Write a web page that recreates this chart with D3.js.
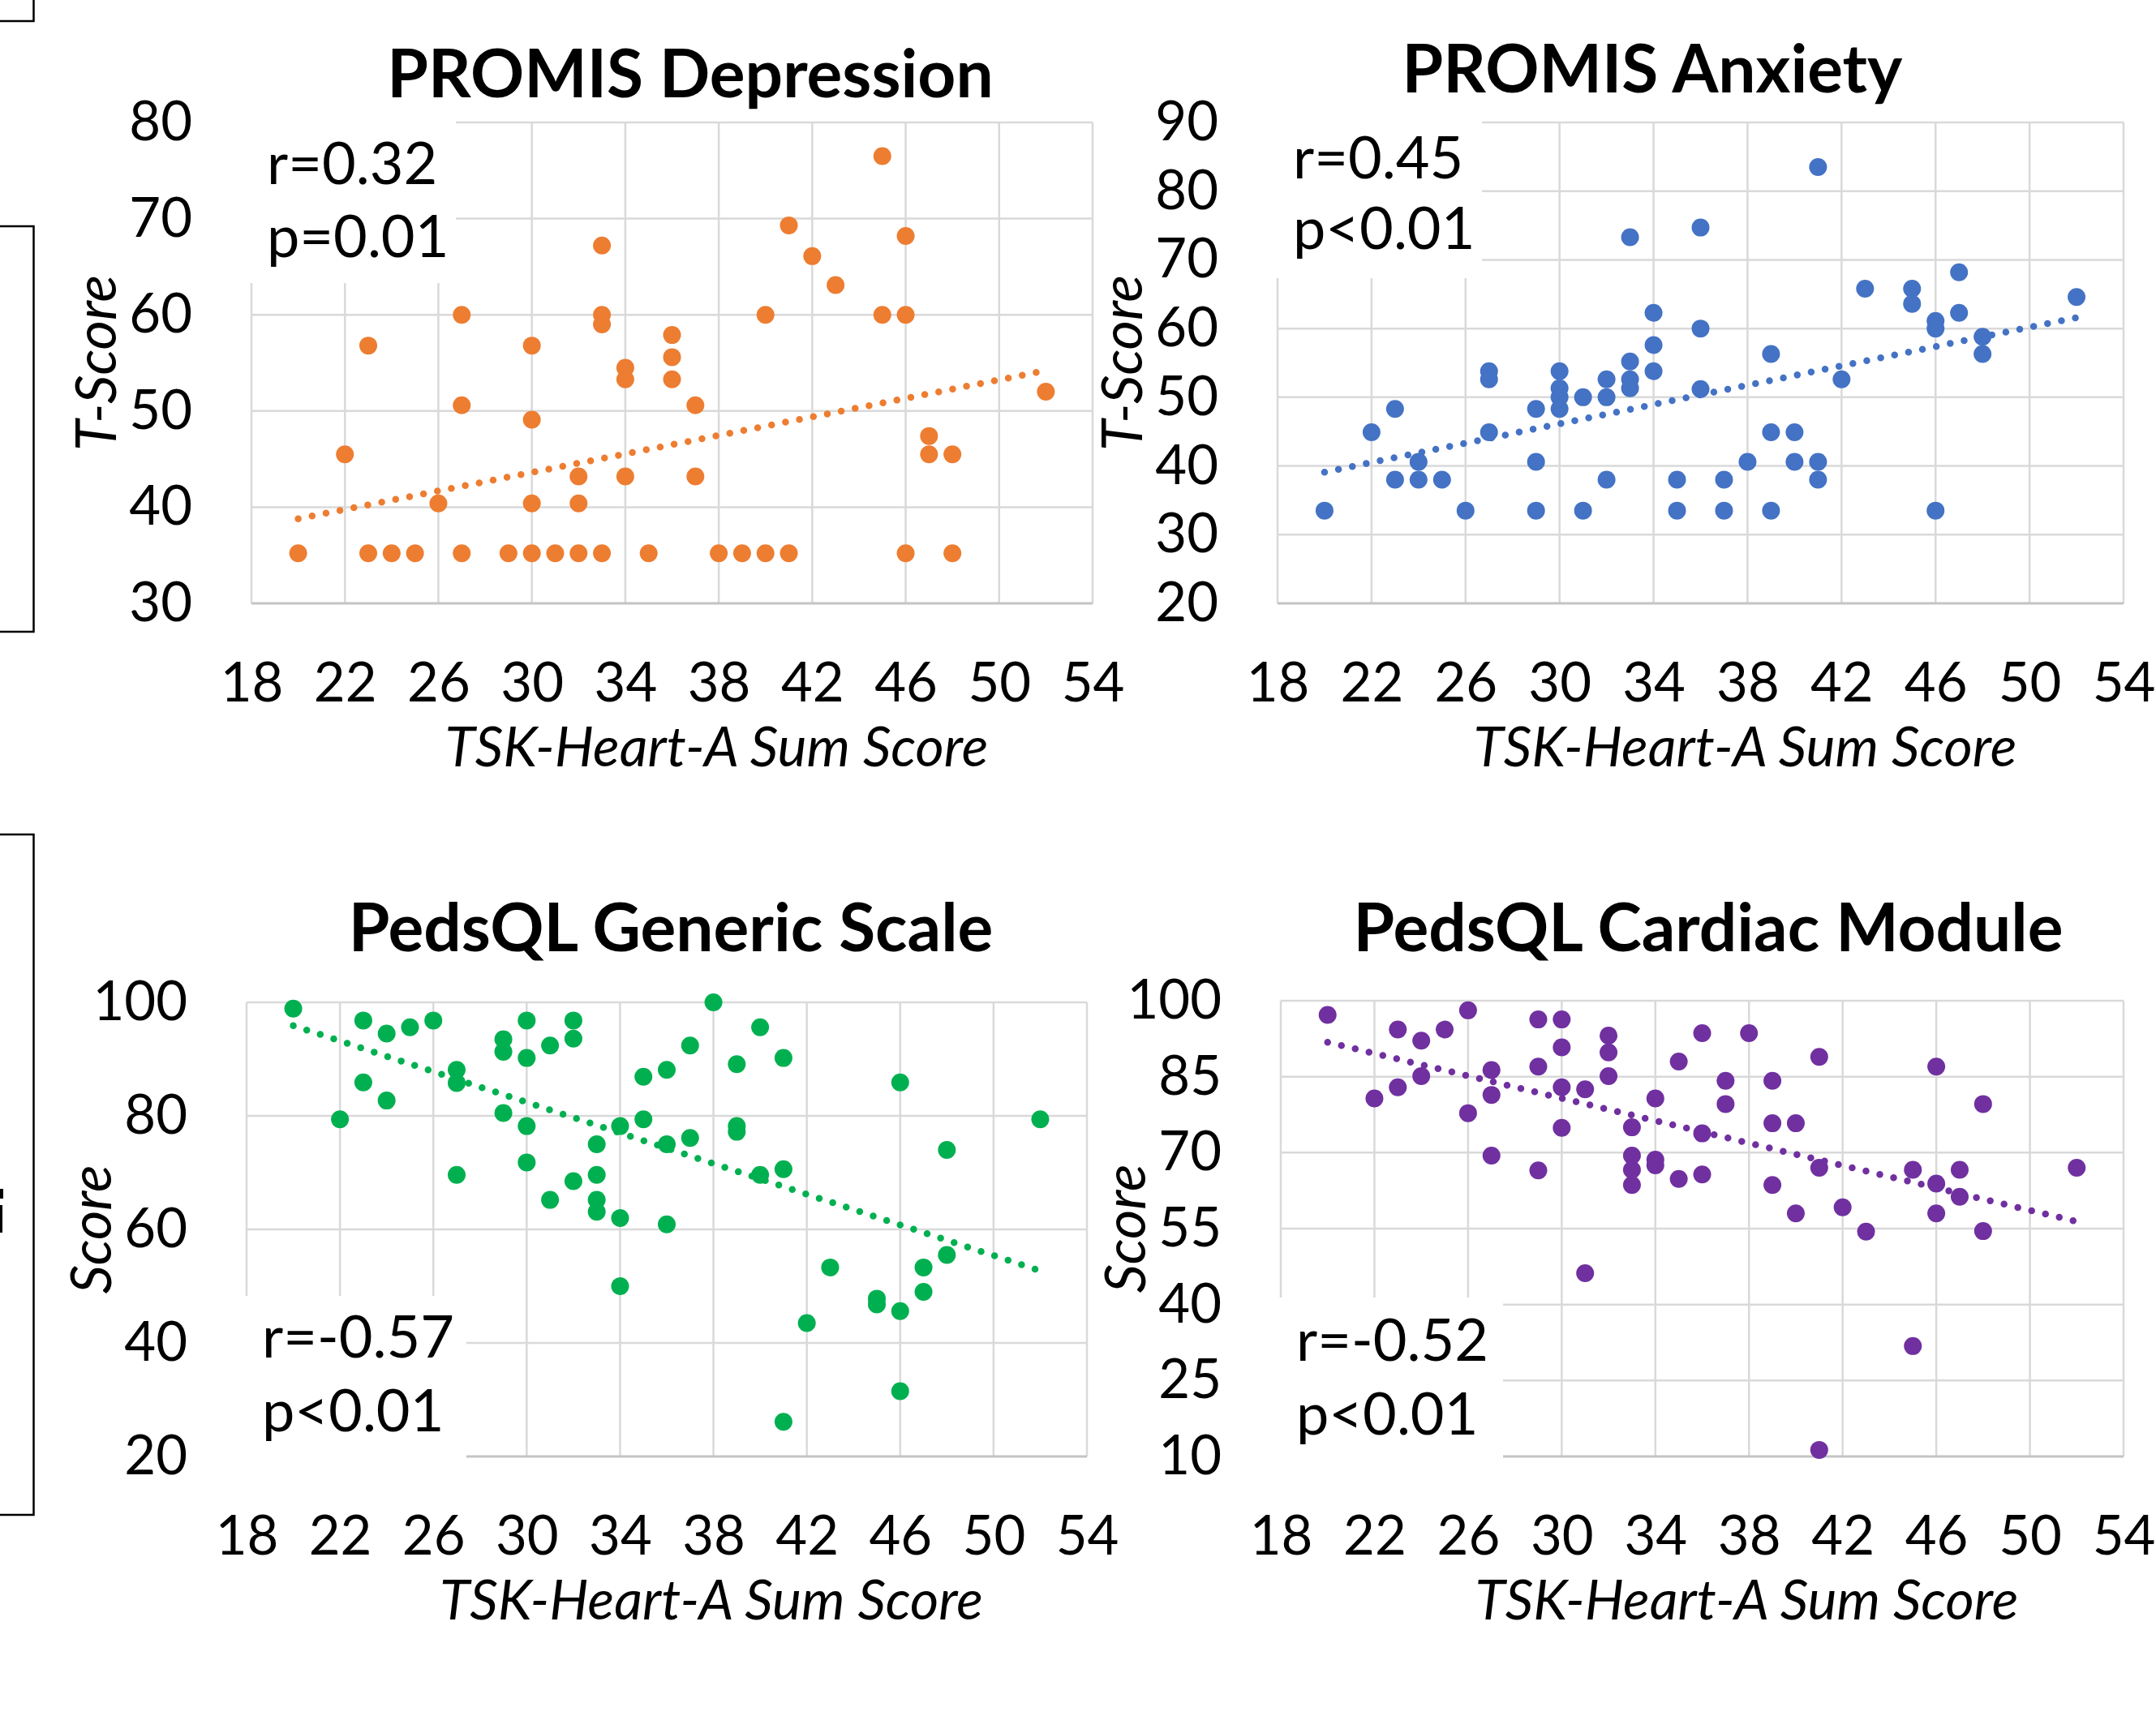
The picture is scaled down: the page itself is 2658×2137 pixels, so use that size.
<!DOCTYPE html>
<html>
<head>
<meta charset="utf-8">
<script src="https://cdn.jsdelivr.net/npm/d3@7"></script>
<style>
  body { margin: 0; background: #fff; }
  svg { display: block; }
  text { font-family: Lato, 'Open Sans', sans-serif; fill: #000; }
</style>
</head>
<body>
<svg width="2658" height="2137"></svg>
<script>
// TSK-Heart-A sum score (x) against each outcome (y)
let xTicks = [18, 22, 26, 30, 34, 38, 42, 46, 50, 54]

let depX = [20,22,23,23,24,25,26,27,27,27,29,30,30,30,30,31,32,32,32,33,33,33,33,34,34,34,35,36,36,36,37,37,38,39,40,40,41,41,42,43,45,45,46,46,46,47,47,48,48,52]
let depY = [35.2,45.5,56.8,35.2,35.2,35.2,40.4,60,50.6,35.2,35.2,56.8,49.1,40.4,35.2,35.2,43.2,40.4,35.2,67.2,60,59,35.2,54.5,53.3,43.2,35.2,57.9,55.6,53.3,50.6,43.2,35.2,35.2,60,35.2,69.3,35.2,66.1,63.1,76.5,60,68.2,60,35.2,47.4,45.5,45.5,35.2,52]
let depTicks = [30, 40, 50, 60, 70, 80]
let depTrend = [38.8, 54.2]

let anxX = [20,22,23,23,24,24,25,26,27,27,27,29,29,29,30,30,30,30,31,31,32,32,32,33,33,33,33,34,34,34,35,35,36,36,36,37,37,38,39,39,39,40,40,41,41,41,42,43,45,45,46,46,46,47,47,48,48,52]
let anxY = [33.5,44.9,48.3,38,40.6,38,38,33.5,53.8,52.6,44.9,48.3,40.6,33.5,53.8,51.3,50,48.3,50,33.5,52.6,50,38,73.3,55.2,52.6,51.3,62.3,57.6,53.8,38,33.5,74.7,60,51.2,38,33.5,40.6,56.3,44.9,33.5,44.9,40.6,83.5,40.6,38,52.6,65.8,65.8,63.6,61.1,60,33.5,68.2,62.3,58.8,56.3,64.6]
let anxTicks = [20, 30, 40, 50, 60, 70, 80, 90]
let anxTrend = [39.1, 61.6]

let genX = [20,22,23,23,24,24,25,26,27,27,27,29,29,29,30,30,30,30,31,31,32,32,32,33,33,33,33,34,34,34,35,35,36,36,36,37,37,38,39,39,39,40,40,41,41,41,42,43,45,45,46,46,46,47,47,48,48,52]
let genY = [98.9,79.4,96.8,85.9,94.5,82.7,95.6,96.8,88.1,85.8,69.6,93.5,91.3,80.5,96.8,90.2,78.2,71.8,92.4,65.2,96.8,93.6,68.5,75,69.6,65.2,63.1,78.2,62,50,86.9,79.4,88.1,75,60.9,92.4,76.1,100,89.1,78.2,77.2,95.6,69.6,90.2,70.6,26.1,43.5,53.3,47.8,46.8,85.9,45.6,31.5,53.3,49,74,55.5,79.4]
let genTicks = [20, 40, 60, 80, 100]
let genTrend = [95.9, 52.7]

let cardX = [20,22,23,23,24,24,25,26,26,27,27,27,29,29,29,30,30,30,30,31,31,32,32,32,33,33,33,33,34,34,34,35,35,36,36,36,37,37,38,39,39,39,40,40,41,41,41,42,43,45,45,46,46,46,47,47,48,48,52]
let cardY = [97.2,80.7,94.3,82.9,92.1,85.1,94.3,98.1,77.8,86.3,81.4,69.4,96.3,87,66.5,96.3,90.8,82.9,74.9,82.5,46.2,93.1,89.8,85.1,75,69.4,66.6,63.6,80.7,68.6,67.5,88,64.8,93.6,73.8,65.7,84.2,79.6,93.6,84.2,75.8,63.6,75.8,58,88.9,67,11.3,59.2,54.4,66.6,31.8,87,63.9,58,66.6,61.3,79.6,54.5,67]
let cardTicks = [10, 25, 40, 55, 70, 85, 100]
let cardTrend = [91.8, 56.4]

let trendX = [20, 52]

let panels = [
  { title: 'PROMIS Depression', xs: depX, ys: depY, ticks: depTicks, trend: depTrend,
    color: '#ed7d31', yLabel: 'T-Score', stats: ['r=0.32', 'p=0.01'],
    left: 310, right: 1347, top: 151, bottom: 744, titleX: 851, titleY: 120,
    statY: [227, 317], box: { x1: 562, y1: 349, top: true } },
  { title: 'PROMIS Anxiety', xs: anxX, ys: anxY, ticks: anxTicks, trend: anxTrend,
    color: '#4472c4', yLabel: 'T-Score', stats: ['r=0.45', 'p<0.01'],
    left: 1575, right: 2618, top: 151, bottom: 744, titleX: 2037, titleY: 114,
    statY: [220, 307], box: { x1: 1827, y1: 343, top: true } },
  { title: 'PedsQL Generic Scale', xs: genX, ys: genY, ticks: genTicks, trend: genTrend,
    color: '#00b050', yLabel: 'Score', stats: ['r=-0.57', 'p<0.01'],
    left: 304, right: 1340, top: 1236, bottom: 1796, titleX: 827, titleY: 1173,
    statY: [1674, 1765], box: { x1: 575, y1: 1598, top: false } },
  { title: 'PedsQL Cardiac Module', xs: cardX, ys: cardY, ticks: cardTicks, trend: cardTrend,
    color: '#7030a0', yLabel: 'Score', stats: ['r=-0.52', 'p<0.01'],
    left: 1579, right: 2618, top: 1234, bottom: 1796, titleX: 2106, titleY: 1173,
    statY: [1678, 1769], box: { x1: 1853, y1: 1600, top: false } }
]

let svg = d3.select('svg')

// bits of neighbouring figure cut off at the left edge
let edge = svg.append('g').attr('fill', 'none').attr('stroke', '#000').attr('stroke-width', 2.5)
edge.append('path').attr('d', 'M-5,26H41.5V-5')
edge.append('rect').attr('x', -5).attr('y', 279).attr('width', 46.5).attr('height', 500)
edge.append('rect').attr('x', -5).attr('y', 1029).attr('width', 46.5).attr('height', 839)
svg.append('rect').attr('x', 0).attr('y', 1466).attr('width', 4).attr('height', 12).attr('fill', '#000')
svg.append('rect').attr('x', 0).attr('y', 1486).attr('width', 3).attr('height', 34).attr('fill', '#000')

panels.forEach(p => {
  let x = d3.scaleLinear().domain([18, 54]).range([p.left, p.right])
  let y = d3.scaleLinear().domain(d3.extent(p.ticks)).range([p.bottom, p.top])
  let g = svg.append('g')

  // grid
  g.selectAll('.vg').data(xTicks).join('line')
    .attr('x1', d => x(d)).attr('x2', d => x(d))
    .attr('y1', p.top).attr('y2', p.bottom)
    .attr('stroke', '#d9d9d9').attr('stroke-width', 2.5)
  g.selectAll('.hg').data(p.ticks.slice(1)).join('line')
    .attr('x1', p.left).attr('x2', p.right)
    .attr('y1', d => y(d)).attr('y2', d => y(d))
    .attr('stroke', '#d9d9d9').attr('stroke-width', 2.5)
  g.append('line')
    .attr('x1', p.left).attr('x2', p.right)
    .attr('y1', p.bottom).attr('y2', p.bottom)
    .attr('stroke', '#c4c4c4').attr('stroke-width', 3)

  // white label box that hides part of the grid
  let b = p.box
  g.append('rect')
    .attr('x', p.left - 6)
    .attr('y', b.top ? p.top - 6 : b.y1)
    .attr('width', b.x1 - p.left + 6)
    .attr('height', b.top ? b.y1 - p.top + 6 : p.bottom - b.y1 + 6)
    .attr('fill', '#fff')

  g.selectAll('.stat').data(p.stats).join('text')
    .attr('x', p.left + 19)
    .attr('y', (d, i) => p.statY[i])
    .attr('font-size', 72)
    .text(d => d)

  // axes
  let xAxis = g.append('g')
    .attr('transform', `translate(0,${p.bottom})`)
    .call(d3.axisBottom(x).tickValues(xTicks).tickSize(0).tickPadding(73))
  let yAxis = g.append('g')
    .attr('transform', `translate(${p.left},0)`)
    .call(d3.axisLeft(y).tickValues(p.ticks).tickSize(0).tickPadding(73))
  ;[xAxis, yAxis].forEach(a => {
    a.select('.domain').remove()
    a.selectAll('text').attr('font-size', 67).attr('fill', '#000')
    a.attr('font-family', null)
  })

  g.append('text')
    .attr('x', (p.left + p.right) / 2 + 55)
    .attr('y', p.bottom + 201)
    .attr('text-anchor', 'middle')
    .attr('font-size', 68)
    .attr('font-style', 'italic')
    .text('TSK-Heart-A Sum Score')

  g.append('text')
    .attr('transform', `translate(${p.left - 167},${(p.top + p.bottom) / 2}) rotate(-90)`)
    .attr('text-anchor', 'middle')
    .attr('font-size', 70)
    .attr('font-style', 'italic')
    .text(p.yLabel)

  g.append('text')
    .attr('x', p.titleX)
    .attr('y', p.titleY)
    .attr('text-anchor', 'middle')
    .attr('font-size', 82)
    .attr('font-weight', 'bold')
    .text(p.title)

  // dotted trend line
  let line = d3.line().x(d => x(d[0])).y(d => y(d[1]))
  g.append('path')
    .datum(trendX.map((v, i) => [v, p.trend[i]]))
    .attr('d', line)
    .attr('fill', 'none')
    .attr('stroke', p.color)
    .attr('stroke-width', 8.5)
    .attr('stroke-linecap', 'round')
    .attr('stroke-dasharray', '0 17.5')

  g.selectAll('.dot').data(p.xs.map((v, i) => [v, p.ys[i]])).join('circle')
    .attr('cx', d => x(d[0]))
    .attr('cy', d => y(d[1]))
    .attr('r', 11)
    .attr('fill', p.color)
})
</script>
</body>
</html>
